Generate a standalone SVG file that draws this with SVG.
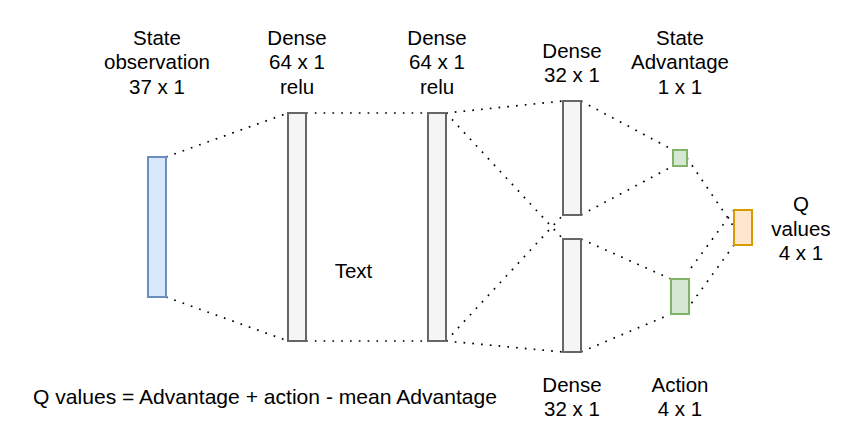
<svg xmlns="http://www.w3.org/2000/svg" width="848" height="434" viewBox="0 0 848 434">
<style>
text{font-family:"Liberation Sans",Arial,sans-serif;font-size:20.5px;fill:#000}
.c{text-anchor:middle}
.f{font-size:21px}
.in{fill:#dae8fc;stroke:#6c8ebf;stroke-width:2}
.dn{fill:#f5f5f5;stroke:#666666;stroke-width:2}
.gr{fill:#d5e8d4;stroke:#82b366;stroke-width:2}
.or{fill:#ffe6cc;stroke:#d79b00;stroke-width:2}
.e{fill:none;stroke:#000;stroke-width:1.7;stroke-dasharray:1.7 7.1;stroke-linecap:butt}
</style>
<rect width="848" height="434" fill="#fff"/>
<g id="connectors">
<line class="e" x1="166" y1="157" x2="288" y2="113"/>
<line class="e" x1="166" y1="297" x2="288" y2="341"/>
<line class="e" x1="306" y1="113" x2="428" y2="113"/>
<line class="e" x1="306" y1="341" x2="428" y2="341"/>
<line class="e" x1="446" y1="113" x2="563" y2="101"/>
<line class="e" x1="446" y1="113" x2="563" y2="239"/>
<line class="e" x1="446" y1="341" x2="563" y2="215"/>
<line class="e" x1="446" y1="341" x2="563" y2="352"/>
<line class="e" x1="581" y1="101" x2="673" y2="150"/>
<line class="e" x1="581" y1="215" x2="673" y2="166"/>
<line class="e" x1="581" y1="239" x2="671" y2="279"/>
<line class="e" x1="581" y1="352" x2="671" y2="314"/>
<line class="e" x1="687" y1="158" x2="734" y2="227"/>
<line class="e" x1="734" y1="210" x2="691" y2="268"/>
<line class="e" x1="734" y1="245" x2="688" y2="308"/>
</g>
<g id="node-input"><rect class="in" x="148" y="157" width="18" height="140"/>
<text class="c" x="157" y="44.5">State</text><text class="c" x="157" y="69">observation</text><text class="c" x="157" y="93.5">37 x 1</text></g>
<g id="node-dense1"><rect class="dn" x="288" y="113" width="18" height="228"/>
<text class="c" x="297" y="44.5">Dense</text><text class="c" x="297" y="69">64 x 1</text><text class="c" x="297" y="93.5">relu</text></g>
<g id="node-dense2"><rect class="dn" x="428" y="113" width="18" height="228"/>
<text class="c" x="437" y="44.5">Dense</text><text class="c" x="437" y="69">64 x 1</text><text class="c" x="437" y="93.5">relu</text></g>
<g id="node-dense3"><rect class="dn" x="563" y="101" width="18" height="114"/>
<text class="c" x="572" y="58">Dense</text><text class="c" x="572" y="82">32 x 1</text></g>
<g id="node-dense4"><rect class="dn" x="563" y="239" width="18" height="113"/>
<text class="c" x="572" y="392">Dense</text><text class="c" x="572" y="415.5">32 x 1</text></g>
<g id="node-state-adv"><rect class="gr" x="673" y="150" width="14" height="16"/>
<text class="c" x="680" y="44.5">State</text><text class="c" x="680" y="69">Advantage</text><text class="c" x="680" y="93.5">1 x 1</text></g>
<g id="node-action"><rect class="gr" x="671" y="279" width="18" height="35"/>
<text class="c" x="680" y="392">Action</text><text class="c" x="680" y="415.5">4 x 1</text></g>
<g id="node-q"><rect class="or" x="734" y="210" width="18" height="35"/>
<text class="c" x="801" y="211">Q</text><text class="c" x="801" y="235.5">values</text><text class="c" x="801" y="260">4 x 1</text></g>
<g id="label-text"><text class="c" x="353.5" y="278">Text</text></g>
<g id="label-formula"><text class="f" x="33" y="404" textLength="464" lengthAdjust="spacingAndGlyphs">Q values = Advantage + action - mean Advantage</text></g>
</svg>
